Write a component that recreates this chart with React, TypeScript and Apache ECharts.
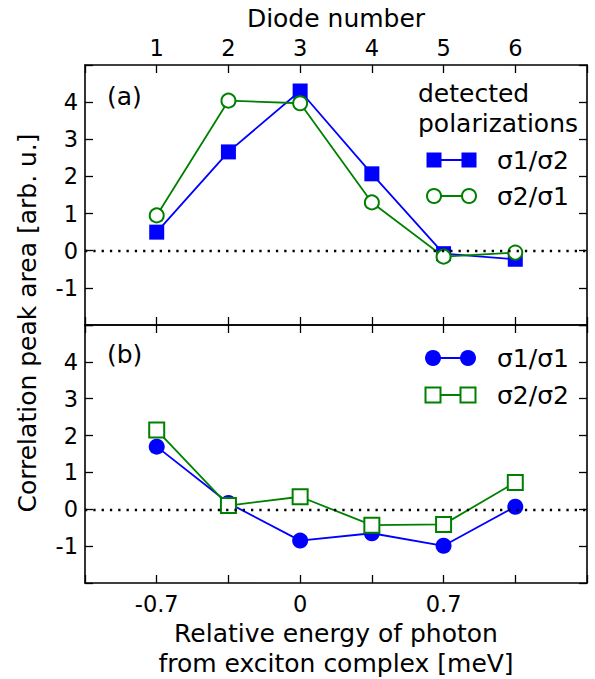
import React, { useEffect, useRef } from "react";
import * as echarts from "echarts";

// Data
const energy = [-0.7, -0.35, 0, 0.35, 0.7, 1.05]; // meV, relative photon energy
const diodeNumbers = [1, 2, 3, 4, 5, 6];
const sigma1sigma2 = [0.5, 2.66, 4.3, 2.07, -0.08, -0.23];
const sigma2sigma1 = [0.95, 4.04, 3.97, 1.3, -0.16, -0.05];
const sigma1sigma1 = [1.7, 0.17, -0.85, -0.65, -0.99, 0.07];
const sigma2sigma2 = [2.15, 0.1, 0.34, -0.43, -0.41, 0.73];
const energyTickValues = [-0.7, 0, 0.7];
const energyTickLabels = ["-0.7", "0", "0.7"];
const yTickLabels = [-1, 0, 1, 2, 3, 4];

const BLUE = "#0000ff";
const GREEN = "#008000";
const FONT = "DejaVu Sans";

const near = (a: number, b: number) => Math.abs(a - b) < 1e-6;

export default function App() {
  const ref = useRef<HTMLDivElement>(null);
  useEffect(() => {
    if (!ref.current) return;
    const chart = echarts.init(ref.current, undefined, { renderer: "svg" });

    const tickStyle = { show: true, inside: true, length: 8, lineStyle: { color: "#000", width: 1.3 } };
    const lineStyle = { show: true, onZero: false, lineStyle: { color: "#000", width: 1.6 } };
    const xBase = {
      type: "value",
      min: -1.05,
      max: 1.4,
      interval: 0.35,
      splitLine: { show: false },
      axisLine: lineStyle,
      axisTick: tickStyle,
    };
    const yBase = {
      type: "value",
      min: -2,
      max: 5,
      interval: 1,
      splitLine: { show: false },
      axisLine: lineStyle,
      axisTick: tickStyle,
    };
    const yLabel = {
      show: true,
      fontSize: 22.5,
      fontFamily: FONT,
      color: "#000",
      margin: 7,
      formatter: (v: number) => (yTickLabels.some((t) => near(t, v)) ? String(Math.round(v)) : ""),
    };

    const zeroLine = {
      silent: true,
      symbol: ["none", "none"],
      label: { show: false },
      lineStyle: { color: "#000", type: [2.3, 6], width: 2.3 },
      data: [{ yAxis: 0 }],
    };

    const textStyle = (text: string, x: number, y: number, size = 25, align = "left") => ({
      type: "text",
      x,
      y,
      style: { text, fontSize: size, fontFamily: FONT, fill: "#000", align, verticalAlign: "middle" },
    });

    const legendRow = (
      y: number,
      x1: number,
      x2: number,
      color: string,
      shape: "rect" | "circle",
      filled: boolean,
      size: number,
      label: string
    ) => {
      const els: any[] = [
        { type: "line", shape: { x1, y1: y, x2, y2: y }, style: { stroke: color, lineWidth: 1.8 } },
      ];
      [x1, x2].forEach((cx) => {
        const style = filled
          ? { fill: color, stroke: color, lineWidth: 0 }
          : { fill: "#fff", stroke: color, lineWidth: 2 };
        if (shape === "rect") {
          els.push({ type: "rect", shape: { x: cx - size / 2, y: y - size / 2, width: size, height: size }, style });
        } else {
          els.push({ type: "circle", shape: { cx, cy: y, r: size / 2 }, style });
        }
      });
      els.push(textStyle(label, 497, y));
      return els;
    };

    chart.setOption({
      animation: false,
      backgroundColor: "#fff",
      grid: [
        { left: 85, right: 8, top: 65, height: 260 },
        { left: 85, right: 8, top: 325, height: 259 },
      ],
      xAxis: [
        { ...xBase, gridIndex: 0, position: "bottom", axisLabel: { show: false } },
        {
          ...xBase,
          gridIndex: 0,
          position: "top",
          name: "Diode number",
          nameLocation: "middle",
          nameGap: 34,
          nameTextStyle: { fontSize: 25, fontFamily: FONT, color: "#000" },
          axisLabel: {
            show: true,
            fontSize: 22.5,
            fontFamily: FONT,
            color: "#000",
            margin: 6,
            formatter: (v: number) => {
              const i = energy.findIndex((e) => near(e, v));
              return i >= 0 ? String(diodeNumbers[i]) : "";
            },
          },
        },
        { ...xBase, gridIndex: 1, position: "top", axisLabel: { show: false } },
        {
          ...xBase,
          gridIndex: 1,
          position: "bottom",
          name: "Relative energy of photon\nfrom exciton complex [meV]",
          nameLocation: "middle",
          nameGap: 35,
          nameTextStyle: {
            fontSize: 25,
            fontFamily: FONT,
            color: "#000",
            lineHeight: 30,
            verticalAlign: "top",
          },
          axisLabel: {
            show: true,
            fontSize: 22.5,
            fontFamily: FONT,
            color: "#000",
            margin: 9,
            formatter: (v: number) => {
              const i = energyTickValues.findIndex((e) => near(e, v));
              return i >= 0 ? energyTickLabels[i] : "";
            },
          },
        },
      ],
      yAxis: [
        { ...yBase, gridIndex: 0, position: "left", axisLabel: yLabel },
        { ...yBase, gridIndex: 0, position: "right", axisLabel: { show: false } },
        { ...yBase, gridIndex: 1, position: "left", axisLabel: yLabel },
        { ...yBase, gridIndex: 1, position: "right", axisLabel: { show: false } },
      ],
      series: [
        {
          name: "σ1/σ2",
          type: "line",
          xAxisIndex: 0,
          yAxisIndex: 0,
          data: energy.map((e, i) => [e, sigma1sigma2[i]]),
          symbol: "rect",
          symbolSize: 15,
          itemStyle: { color: BLUE },
          lineStyle: { color: BLUE, width: 1.8 },
          markLine: zeroLine,
          z: 3,
        },
        {
          name: "σ2/σ1",
          type: "line",
          xAxisIndex: 0,
          yAxisIndex: 0,
          data: energy.map((e, i) => [e, sigma2sigma1[i]]),
          symbol: "circle",
          symbolSize: 14,
          showAllSymbol: true,
          itemStyle: { color: "#fff", borderColor: GREEN, borderWidth: 2 },
          lineStyle: { color: GREEN, width: 1.8 },
          z: 4,
        },
        {
          name: "σ1/σ1",
          type: "line",
          xAxisIndex: 3,
          yAxisIndex: 2,
          data: energy.map((e, i) => [e, sigma1sigma1[i]]),
          symbol: "circle",
          symbolSize: 16,
          itemStyle: { color: BLUE },
          lineStyle: { color: BLUE, width: 1.8 },
          markLine: zeroLine,
          z: 3,
        },
        {
          name: "σ2/σ2",
          type: "line",
          xAxisIndex: 3,
          yAxisIndex: 2,
          data: energy.map((e, i) => [e, sigma2sigma2[i]]),
          symbol: "rect",
          symbolSize: 15,
          itemStyle: { color: "#fff", borderColor: GREEN, borderWidth: 2 },
          lineStyle: { color: GREEN, width: 1.8 },
          z: 4,
        },
      ],
      graphic: [
        {
          type: "text",
          x: 27,
          y: 323,
          rotation: Math.PI / 2,
          style: {
            text: "Correlation peak area [arb. u.]",
            fontSize: 25,
            fontFamily: FONT,
            fill: "#000",
            align: "center",
            verticalAlign: "middle",
          },
        },
        textStyle("(a)", 107, 96),
        textStyle("(b)", 107, 354),
        textStyle("detected", 418, 93),
        textStyle("polarizations", 418, 123),
        ...legendRow(160, 434, 469, BLUE, "rect", true, 15, "σ1/σ2"),
        ...legendRow(196, 434, 469, GREEN, "circle", false, 14, "σ2/σ1"),
        ...legendRow(358, 433, 468, BLUE, "circle", true, 16, "σ1/σ1"),
        ...legendRow(395, 433, 468, GREEN, "rect", false, 15, "σ2/σ2"),
      ],
    });
    return () => chart.dispose();
  }, []);
  return <div ref={ref} style={{ position: "fixed", left: 0, top: 0, width: 595, height: 679 }} />;
}
